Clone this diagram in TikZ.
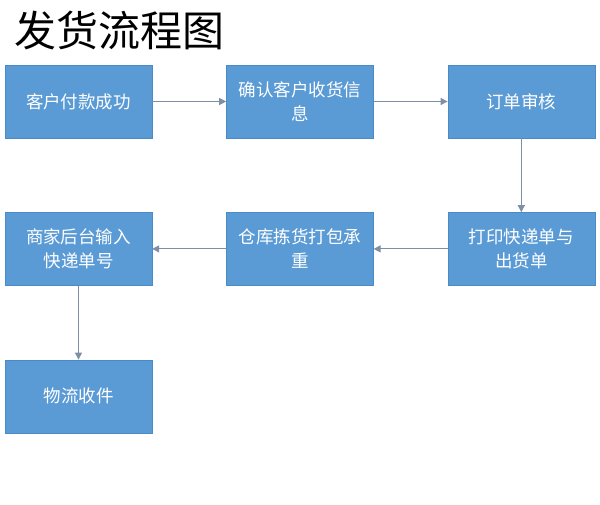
\documentclass[tikz,border=0pt]{standalone}
\usepackage{fontspec}
\setmainfont{Noto Sans CJK SC}
\usetikzlibrary{arrows.meta,positioning}

\definecolor{boxblue}{HTML}{5B9BD5}
\definecolor{boxline}{HTML}{4A8AC8}
\definecolor{arrowgray}{HTML}{7F8FA6}

\begin{document}
\begin{tikzpicture}[
		x=1pt, y=-1pt,
		node distance=74pt and 74pt,
		arrow/.style={-{Triangle[length=7pt,width=7pt]}, draw=arrowgray, line width=1pt},
		block/.style={draw=boxline, fill=boxblue, text=white, minimum height=73pt, minimum width=147pt, align=center, font=\fontsize{17.5}{24}\selectfont, inner sep=0pt},
	]
		\useasboundingbox (0,0) rectangle (600,505);
		\node (title) [anchor=west, inner sep=0pt, font=\fontsize{42}{46}\selectfont] at (14,31) {发货流程图};
		
		\node (pay) [block] at (78.5,101.5) {客户付款成功};
		\node (confirm) [block, right=of pay] {确认客户收货信\\息};
		\node (check) [block, right=of confirm] {订单审核};
		\node (print) [block, below=of check] {打印快递单与\\出货单};
		\node (pack) [block, left=of print] {仓库拣货打包承\\重};
		\node (input) [block, left=of pack] {商家后台输入\\快递单号};
		\node (ship) [block, below=of input] {物流收件};
		
		\draw[arrow] (pay) -- (confirm);
		\draw[arrow] (confirm) -- (check);
		\draw[arrow] (check) -- (print);
		\draw[arrow] (print) -- (pack);
		\draw[arrow] (pack) -- (input);
		\draw[arrow] (input) -- (ship);
	\end{tikzpicture}
\end{document}
